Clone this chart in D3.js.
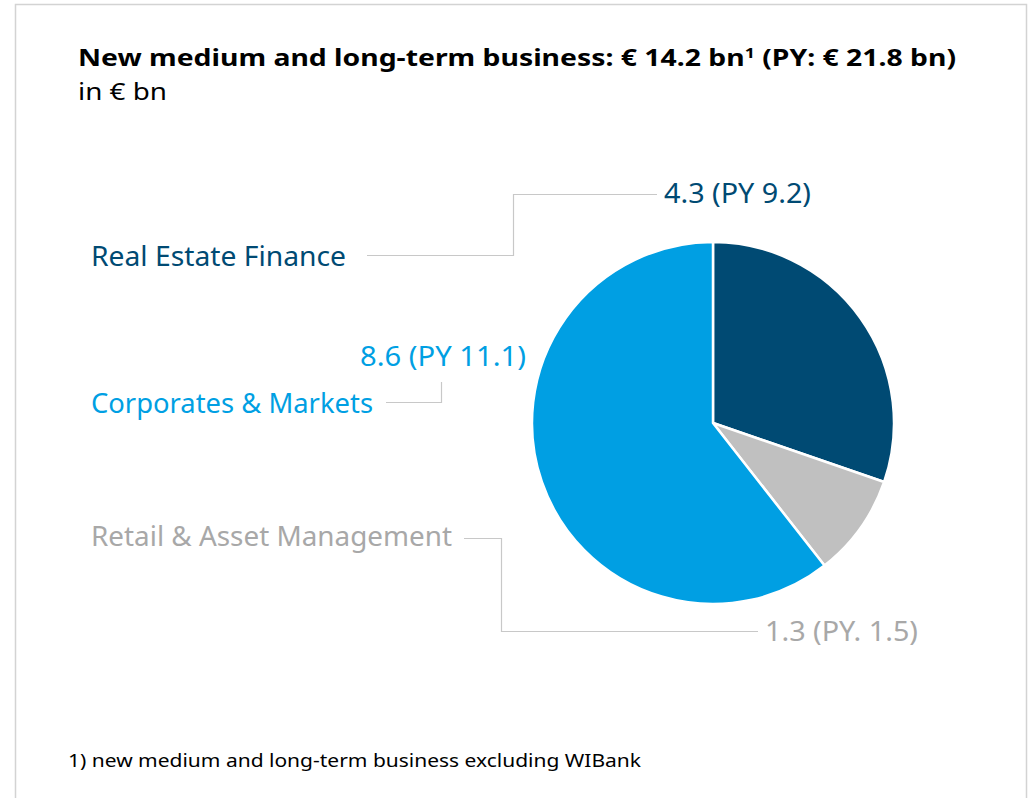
<!DOCTYPE html>
<html>
<head>
<meta charset="utf-8">
<script src="https://cdn.jsdelivr.net/npm/d3@7"></script>
<style>
  body { margin: 0; background: #fff; }
  svg { display: block; font-family: "Noto Sans", "Open Sans", sans-serif; }
</style>
</head>
<body>
<svg id="chart" width="1030" height="798"></svg>
<script>
// segment data (clockwise from 12 o'clock)
const segments = ["Real Estate Finance", "Retail & Asset Management", "Corporates & Markets"];
const values = [4.3, 1.3, 8.6];
const prevYear = ["PY 9.2", "PY. 1.5", "PY 11.1"];
const colors = ["#004a73", "#c0c0c0", "#009fe3"];
const labelColors = ["#004a73", "#a8a8a8", "#009fe3"];

const titleText = "New medium and long-term business: € 14.2 bn";
const titleTail = " (PY: € 21.8 bn)";
const subTitle = "in € bn";
const footnote = "1) new medium and long-term business excluding WIBank";

const svg = d3.select("#chart");

// frame
svg.append("path")
    .attr("d", "M15.5,820 V4.5 H1026.5 V820")
    .attr("fill", "none")
    .attr("stroke", "#d3d3d3")
    .attr("stroke-width", 1.5);

// title
const title = svg.append("text")
    .attr("x", 78).attr("y", 66)
    .attr("font-size", 24).attr("font-weight", 700)
    .attr("fill", "#000")
    .attr("textLength", 878).attr("lengthAdjust", "spacingAndGlyphs");
title.append("tspan").text(titleText);
title.append("tspan").attr("font-size", 15).attr("dy", -8).text("1");
title.append("tspan").attr("dy", 8).text(titleTail);

svg.append("text")
    .attr("x", 78).attr("y", 100)
    .attr("font-size", 24).attr("fill", "#000")
    .attr("textLength", 89).attr("lengthAdjust", "spacingAndGlyphs")
    .text(subTitle);

// pie
const cx = 713, cy = 423, radius = 181;
const pie = d3.pie().sort(null).value(d => d)(values);
const arc = d3.arc().innerRadius(0).outerRadius(radius);

svg.append("g")
    .attr("transform", `translate(${cx},${cy})`)
    .selectAll("path")
    .data(pie)
    .join("path")
    .attr("d", arc)
    .attr("fill", (d, i) => colors[i])
    .attr("stroke", "#fff")
    .attr("stroke-width", 2.5)
    .attr("stroke-linejoin", "round");

// label layout: name position, value position, leader polyline
const layout = [
    { name: [91, 266, 255], value: [664, 203, 147], leader: [[367, 255.5], [513.5, 255.5], [513.5, 194.5], [657, 194.5]] },
    { name: [91, 546, 361], value: [765, 641, 153], leader: [[464, 538.5], [501.5, 538.5], [501.5, 631.5], [758, 631.5]] },
    { name: [91, 413, 282], value: [360, 366, 166], leader: [[386, 402.5], [441.5, 402.5], [441.5, 382]] }
];

const line = d3.line();

segments.forEach((seg, i) => {
    const l = layout[i];
    svg.append("path")
        .attr("d", line(l.leader))
        .attr("fill", "none")
        .attr("stroke", "#c8c8c8")
        .attr("stroke-width", 1.2);

    svg.append("text")
        .attr("x", l.name[0]).attr("y", l.name[1])
        .attr("font-size", 27)
        .attr("fill", labelColors[i])
        .attr("textLength", l.name[2]).attr("lengthAdjust", "spacingAndGlyphs")
        .text(seg);

    svg.append("text")
        .attr("x", l.value[0]).attr("y", l.value[1])
        .attr("font-size", 27)
        .attr("fill", labelColors[i])
        .attr("textLength", l.value[2]).attr("lengthAdjust", "spacingAndGlyphs")
        .text(`${values[i].toFixed(1)} (${prevYear[i]})`);
});

// footnote
svg.append("text")
    .attr("x", 68).attr("y", 767)
    .attr("font-size", 18).attr("fill", "#000")
    .attr("textLength", 573).attr("lengthAdjust", "spacingAndGlyphs")
    .text(footnote);
</script>
</body>
</html>
